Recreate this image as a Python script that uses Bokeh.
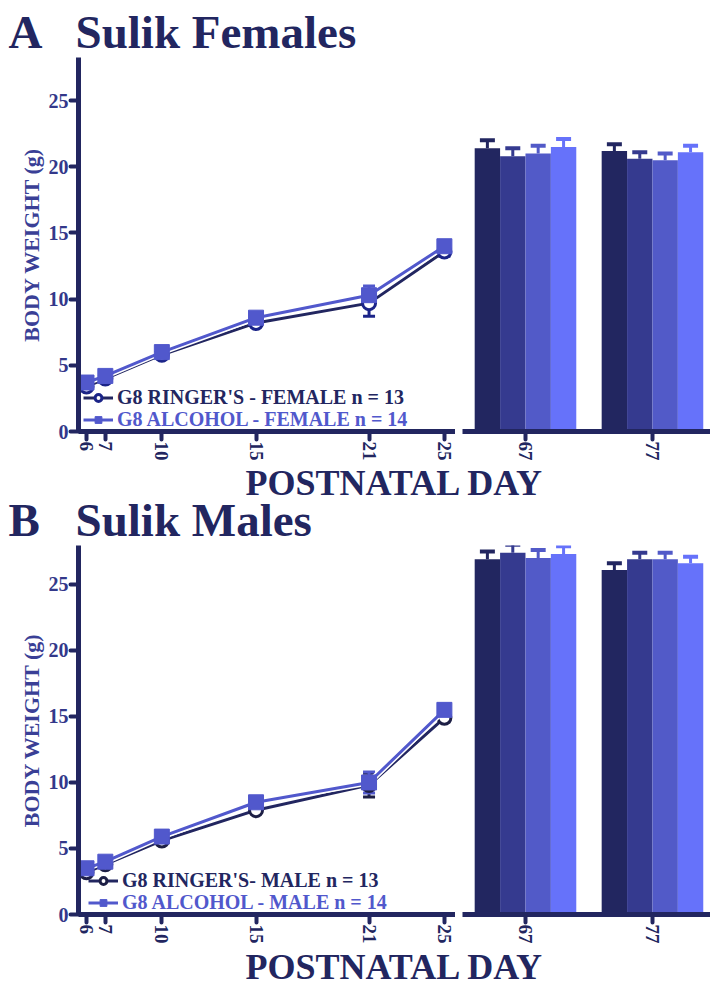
import math
from bokeh.plotting import figure
from bokeh.layouts import column, row
from bokeh.models import (Range1d, FixedTicker, ColumnDataSource, Whisker, TeeHead,
                          Legend, LegendItem)
from bokeh.transform import dodge
from bokeh.embed import file_html
from bokeh.resources import INLINE
from bokeh.core.properties import value

# ---------------- data ----------------
days = [6, 7, 10, 15, 21, 25]

fem_ringer = [3.4, 4.0, 5.8, 8.2, 9.7, 13.6]
fem_ringer_sem = [0.25, 0.2, 0.2, 0.25, 1.0, 0.35]
fem_alcohol = [3.7, 4.2, 6.0, 8.6, 10.3, 14.0]
fem_alcohol_sem = [0.2, 0.2, 0.2, 0.2, 0.7, 0.3]

male_ringer = [3.2, 3.8, 5.6, 7.9, 9.8, 14.9]
male_ringer_sem = [0.2, 0.2, 0.2, 0.2, 0.9, 0.3]
male_alcohol = [3.5, 4.0, 5.9, 8.5, 10.0, 15.5]
male_alcohol_sem = [0.2, 0.2, 0.2, 0.2, 0.8, 0.3]

adult_days = [67, 77]
# four bar series (one value per adult day)
fem_bars = [[21.4, 21.2], [20.8, 20.6], [21.0, 20.5], [21.5, 21.1]]
fem_bars_sem = [[0.6, 0.5], [0.6, 0.5], [0.6, 0.5], [0.6, 0.5]]
male_bars = [[26.9, 26.1], [27.4, 26.9], [27.0, 26.9], [27.3, 26.6]]
male_bars_sem = [[0.6, 0.5], [0.6, 0.5], [0.6, 0.5], [0.6, 0.5]]

y_ticks = [0, 5, 10, 15, 20, 25]
legend_A = ["G8 RINGER'S - FEMALE n = 13", "G8 ALCOHOL - FEMALE n = 14"]
legend_B = ["G8 RINGER'S- MALE n = 13", "G8 ALCOHOL - MALE n = 14"]

# ---------------- style ----------------
FONT = "Liberation Serif"
NAVY = "#222660"
YLAB = "#33388a"
AXLAB = "#3a3f96"
ALC = "#5158cc"
BAR_COLORS = ["#222660", "#353a8f", "#525ac8", "#6672fa"]
BAR_OFFSETS = [-3, -1, 1, 3]
TOTAL_W = 710
LEFT_W = 455
RIGHT_W = TOTAL_W - LEFT_W


def style_axis(ax, rotate=False):
    ax.axis_line_width = 5
    ax.axis_line_color = NAVY
    ax.major_tick_line_color = NAVY
    ax.major_tick_line_width = 4
    ax.major_tick_line_cap = "round"
    ax.major_tick_out = 8
    ax.major_tick_in = 0
    ax.minor_tick_line_color = None
    ax.major_label_text_font = FONT
    ax.major_label_text_font_style = "bold"
    if rotate:
        ax.major_label_orientation = -math.pi / 2
        ax.major_label_text_font_size = "19px"
        ax.major_label_text_color = NAVY
        ax.major_label_standoff = 2
    else:
        ax.major_label_text_font_size = "20px"
        ax.major_label_text_color = YLAB
        ax.major_label_standoff = 2


def text_fig(height, items):
    p = figure(width=TOTAL_W, height=height, output_backend="svg", toolbar_location=None,
               x_range=Range1d(0, TOTAL_W), y_range=Range1d(0, height),
               x_axis_type=None, y_axis_type=None, min_border=0)
    p.outline_line_color = None
    p.grid.visible = False
    for x, y, t, size in items:
        p.text(x=[x], y=[y], text=[t], text_font=value(FONT), text_font_style="bold",
               text_font_size=size, text_color=NAVY, text_baseline="middle",
               text_align="left")
    return p


def line_fig(height, ymax, bottom, ringer, ringer_sem, alcohol, alcohol_sem, labels,
             ringer_color, leg_y, leg_x):
    p = figure(width=LEFT_W, height=height, output_backend="svg", toolbar_location=None,
               x_range=Range1d(5.575, 25.59), y_range=Range1d(0, ymax),
               min_border_left=78, min_border_right=0, min_border_top=0,
               min_border_bottom=bottom)
    p.outline_line_color = None
    p.grid.visible = False
    style_axis(p.xaxis[0], rotate=True)
    style_axis(p.yaxis[0])
    p.xaxis.ticker = FixedTicker(ticks=days)
    p.yaxis.ticker = FixedTicker(ticks=y_ticks)
    p.yaxis.axis_label = "BODY WEIGHT (g)"
    p.yaxis.axis_label_text_font = FONT
    p.yaxis.axis_label_text_font_style = "bold"
    p.yaxis.axis_label_text_font_size = "22px"
    p.yaxis.axis_label_text_color = AXLAB
    p.yaxis.axis_label_standoff = 2

    src_r = ColumnDataSource(dict(x=days, y=ringer,
                                  lo=[v - e for v, e in zip(ringer, ringer_sem)],
                                  hi=[v + e for v, e in zip(ringer, ringer_sem)]))
    src_a = ColumnDataSource(dict(x=days, y=alcohol,
                                  lo=[v - e for v, e in zip(alcohol, alcohol_sem)],
                                  hi=[v + e for v, e in zip(alcohol, alcohol_sem)]))
    for src, col in ((src_r, ringer_color), (src_a, ALC)):
        p.add_layout(Whisker(source=src, base="x", lower="lo", upper="hi", level="underlay",
                             line_color=col, line_width=3,
                             upper_head=TeeHead(size=12, line_color=col, line_width=3),
                             lower_head=TeeHead(size=12, line_color=col, line_width=3)))
    r_line = p.line("x", "y", source=src_r, line_color=NAVY, line_width=3)
    r_mark = p.scatter("x", "y", source=src_r, marker="circle", size=13, fill_color="white",
                       line_color=ringer_color, line_width=3)
    p.line("x", "y", source=src_a, line_color="white", line_width=6)
    a_line = p.line("x", "y", source=src_a, line_color=ALC, line_width=3)
    a_mark = p.scatter("x", "y", source=src_a, marker="square", size=15, fill_color=ALC,
                       line_color=ALC, line_width=1)

    for item_r, lab, col, ly in (((r_line, r_mark), labels[0], NAVY, leg_y[0]),
                                 ((a_line, a_mark), labels[1], ALC, leg_y[1])):
        leg = Legend(items=[LegendItem(label=lab, renderers=list(item_r))],
                     location=(leg_x, ly), padding=0, margin=0, spacing=0,
                     border_line_color=None, background_fill_alpha=0,
                     glyph_width=30, glyph_height=17, label_height=17, label_standoff=4,
                     label_text_font=FONT, label_text_font_style="bold",
                     label_text_font_size="20px", label_text_color=col)
        p.add_layout(leg)
    return p


def bar_fig(height, ymax, bottom, bars, bars_sem):
    p = figure(width=RIGHT_W, height=height, output_backend="svg", toolbar_location=None,
               x_range=Range1d(62.04, 81.57), y_range=Range1d(0, ymax),
               y_axis_location=None,
               min_border_left=7, min_border_right=0, min_border_top=0,
               min_border_bottom=bottom)
    p.outline_line_color = None
    p.grid.visible = False
    style_axis(p.xaxis[0], rotate=True)
    p.xaxis.ticker = FixedTicker(ticks=adult_days)
    for vals, sems, col, off in zip(bars, bars_sem, BAR_COLORS, BAR_OFFSETS):
        src = ColumnDataSource(dict(day=adult_days, top=vals,
                                    hi=[v + e for v, e in zip(vals, sems)]))
        p.vbar(x=dodge("day", off, range=p.x_range), top="top", bottom=0, width=2,
               source=src, fill_color=col, line_color=None)
        p.add_layout(Whisker(source=src, base=dodge("day", off, range=p.x_range),
                             lower="top", upper="hi", line_color=col, line_width=3,
                             upper_head=TeeHead(size=15, line_color=col, line_width=4),
                             lower_head=None))
    return p


tA = text_fig(57, [(8, 26, "A", "47px"), (75, 26, "Sulik Females", "47px")])
lA = line_fig(406, 28.26, 31, fem_ringer, fem_ringer_sem, fem_alcohol, fem_alcohol_sem,
              legend_A, "#1b2488", (22, 0), 5)
bA = bar_fig(406, 28.26, 31, fem_bars, fem_bars_sem)
tMid = text_fig(82, [(245, 63, "POSTNATAL DAY", "36px"), (8, 26, "B", "47px"),
                     (75, 26, "Sulik Males", "47px")])
lB = line_fig(401, 27.95, 32, male_ringer, male_ringer_sem, male_alcohol, male_alcohol_sem,
              legend_B, "#1d1f45", (22, 0), 10)
bB = bar_fig(401, 27.95, 32, male_bars, male_bars_sem)
tBot = text_fig(39, [(245, 19, "POSTNATAL DAY", "36px")])

layout = column(tA, row(lA, bA), tMid, row(lB, bB), tBot)
open("out.html", "w").write(file_html(layout, INLINE))
